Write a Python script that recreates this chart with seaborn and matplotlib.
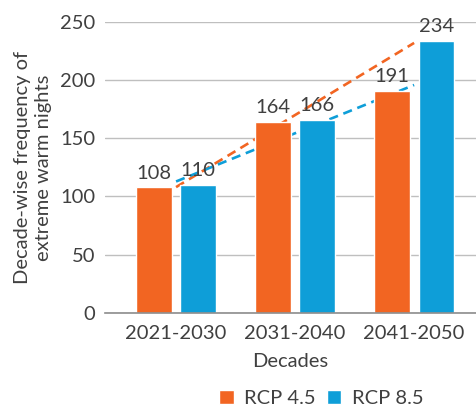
import pandas as pd
import matplotlib.pyplot as plt
import seaborn as sns

sns.set_style("white")
plt.rcParams["font.family"] = ["Lato", "DejaVu Sans"]

# --- Data ---
decades = ["2021-2030", "2031-2040", "2041-2050"]
rcp45 = [108, 164, 191]
rcp85 = [110, 166, 234]
scenarios = ["RCP 4.5", "RCP 8.5"]

ORANGE = "#F26522"
BLUE = "#0E9ED8"
TEXT = "#404040"
FS = 14.5

df = pd.DataFrame({
    "Decades": decades * 2,
    "value": rcp45 + rcp85,
    "Scenario": [scenarios[0]] * 3 + [scenarios[1]] * 3,
})
pos = list(range(len(decades)))

fig = plt.figure(figsize=(4.76, 4.07), dpi=100)
ax = fig.add_axes([105 / 476, 1 - 312.7 / 407, 1 - 105 / 476, (312.7 - 22) / 407])

# trend lines (drawn behind the bars, colours as in the original)
sns.regplot(x=pos, y=rcp85, ax=ax, ci=None, scatter=False, truncate=True,
            line_kws=dict(color=ORANGE, lw=1.9, dashes=(3.5, 2.2), zorder=1))
sns.regplot(x=pos, y=rcp45, ax=ax, ci=None, scatter=False, truncate=True,
            line_kws=dict(color=BLUE, lw=1.9, dashes=(3.5, 2.2), zorder=1))

sns.barplot(data=df, x="Decades", y="value", hue="Scenario",
            palette=[ORANGE, BLUE], width=0.74, gap=0.2, ax=ax, zorder=2,
            saturation=1, legend=True)

for c in ax.containers:
    ax.bar_label(c, padding=4, fontsize=FS, color=TEXT)

ax.set_xlim(-0.597, 2.52)
ax.set_ylim(0, 250)
ax.set_yticks([0, 50, 100, 150, 200, 250])
ax.yaxis.grid(True, color="#BFBFBF", lw=1)
ax.set_axisbelow(True)
for s in ["top", "right", "left"]:
    ax.spines[s].set_visible(False)
ax.spines["bottom"].set_color("#8C8C8C")
ax.spines["bottom"].set_linewidth(1.2)
ax.tick_params(axis="both", length=0, labelsize=FS, labelcolor=TEXT)
ax.tick_params(axis="y", pad=7)
ax.tick_params(axis="x", pad=9)

ax.set_xlabel("Decades", fontsize=FS, color=TEXT, labelpad=8)
ax.set_ylabel("Decade-wise frequency of\nextreme warm nights", fontsize=FS,
              color=TEXT, labelpad=6, linespacing=1.25)

leg = ax.legend(loc="center", bbox_to_anchor=(0.583, -0.295), ncol=2,
                frameon=False, fontsize=FS, handlelength=0.7, handleheight=0.7,
                handletextpad=0.5, columnspacing=0.6, labelcolor=TEXT)

fig.savefig("out.png", dpi=100)
